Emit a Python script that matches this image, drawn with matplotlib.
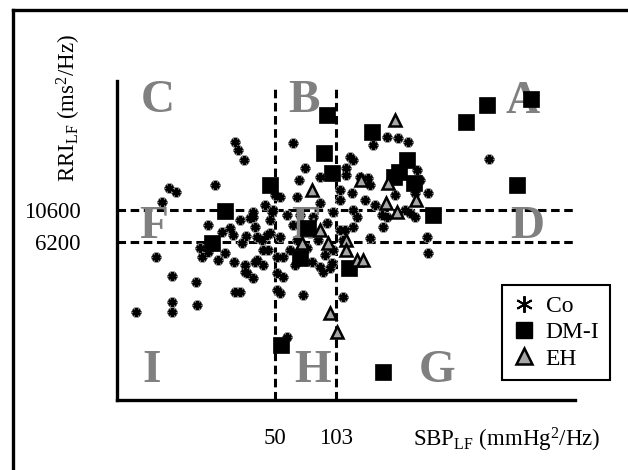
import matplotlib
matplotlib.use("Agg")
import matplotlib.pyplot as plt
from matplotlib.lines import Line2D
from matplotlib.ticker import NullLocator

# Control group (Co)
co_sbp = [9.7, 12.2, 13.1, 14.2, 15.5, 14.7, 14.7, 14.7, 19.6, 19.8,
          24.5, 31.1, 32.2, 34.6, 22.6, 20.5, 21, 22.6, 25.4, 27.6,
          30.8, 35, 35.9, 38.5, 40.4, 43.4, 42.9, 40.4, 33.8, 30.4,
          29.3, 33, 37.2, 38.5, 39.4, 47.1, 48.3, 45.5, 31.1, 51.2,
          51.2, 26.7, 35.4,
          61.9, 71.4, 66.5, 64.9, 53.1, 85.3, 108, 108, 99.5, 137,
          122, 117, 38.5, 48.8, 47.1, 53.1, 55, 51.2, 55, 85.3,
          96, 99.5, 108, 132, 126, 85.3, 78.5, 92.6, 73.1, 64.9,
          59.7, 39.4, 35, 53.1, 69.7, 88.4, 98.4, 112, 57.6, 33,
          50, 44.4, 57.6, 61.9, 67.3, 75.7, 83.3, 90.5, 77.5, 63.4,
          43.4, 46,
          160, 189, 215, 242, 126, 117, 151, 154, 125, 126,
          115, 112, 189, 180, 178, 234, 248, 263, 270, 279,
          307, 263, 303, 307, 154, 634, 164, 146, 208]
co_rri = [1890, 4780, 12100, 15400, 14400, 3470, 2230, 1890, 3130, 2120,
          16200, 33500, 29300, 24700, 8230, 5570, 4780, 5210, 4550, 5120,
          4400, 4180, 3650, 3350, 4550, 5390, 6370, 6710, 6060, 6940,
          7820, 8950, 9260, 10200, 7950, 8950, 10200, 6940, 2640, 4780,
          2740, 7310, 6830,
          33000, 21600, 17600, 13200, 13200, 18500, 14900, 12600, 10200, 18500,
          26000, 21600, 9420, 10600, 7180, 6710, 4780, 3650, 3410, 4040,
          3970, 5390, 7560, 9420, 7950, 11900, 9420, 8510, 5570, 6370,
          5390, 4400, 3710, 2600, 2510, 3710, 4320, 2430, 1230, 2640,
          13700, 11500, 9740, 8230, 9740, 7180, 6370, 4950, 4400, 4180,
          4180, 5390,
          31900, 36500, 35900, 33500, 24700, 19200, 18200, 16200, 14100, 10600,
          7560, 6370, 9420, 7950, 9740, 10600, 10100, 9420, 20900, 17600,
          14100, 14100, 6710, 5120, 6600, 25100, 11500, 12600, 13700]

# Type 1 diabetes (DM-I)
dm_sbp = [47.1, 27.6, 23.7, 67.3, 120, 53.7, 180, 92.6, 89.4, 98.4,
          158, 239, 218, 205, 260, 325, 481, 618, 1043, 884, 74]
dm_rri = [16200, 10400, 6060, 4700, 3970, 1080, 683, 53000, 27800, 19800,
          39700, 24700, 20200, 18500, 16700, 9740, 47000, 62700, 69400, 16200, 7820]

# Essential hypertension (EH)
eh_sbp = [77.5, 208, 139, 191, 187, 213, 266, 96, 104, 85.3,
          93.8, 117, 117, 132, 142, 68.9]
eh_rri = [14900, 48700, 17600, 16700, 11900, 10200, 12600, 1850, 1340, 7560,
          6060, 6370, 5390, 4550, 4550, 6060]

sbp_cuts = [50, 103]
rri_cuts = [6200, 10600]
zone_letters = ["A", "B", "C", "D", "E", "F", "G", "H", "I"]

plt.rcParams["mathtext.fontset"] = "custom"
plt.rcParams["mathtext.rm"] = "Liberation Serif"
plt.rcParams["mathtext.it"] = "Liberation Serif:italic"
serif = "Liberation Serif"

fig = plt.figure(figsize=(6.28, 4.70), dpi=100)
ax = fig.add_axes([117 / 628, 1 - 400 / 470, 458 / 628, 319 / 470])
ax.set_xscale("log")
ax.set_yscale("log")
ax.set_xlim(7.7, 1758)
ax.set_ylim(425, 94200)

# outer frame (left and top edges visible)
fig.add_artist(Line2D([13 / 628, 13 / 628], [0, 1 - 10 / 470], color="black", lw=2.4,
                      transform=fig.transFigure))
fig.add_artist(Line2D([13 / 628, 1], [1 - 10 / 470, 1 - 10 / 470], color="black", lw=2.4,
                      transform=fig.transFigure))

for s in ["top", "right"]:
    ax.spines[s].set_visible(False)
for s in ["left", "bottom"]:
    ax.spines[s].set_linewidth(2.4)

for v in sbp_cuts:
    ax.axvline(v, ymax=0.985, color="black", lw=2.2, dashes=(2.8, 1.5), zorder=1)
for v in rri_cuts:
    ax.axhline(v, color="black", lw=2.2, dashes=(2.8, 1.5), zorder=1)

# Co markers: grey halo under black asterisk
ax.plot(co_sbp, co_rri, ls="none", marker=(6, 2, 0), ms=7, mew=3.4, color="#7f7f7f", zorder=2)
ax.plot(co_sbp, co_rri, ls="none", marker=(6, 2, 0), ms=6, mew=1.8, color="black", zorder=2.1)

# zone letters
letter_pos = [(0.886, 0.900), (0.408, 0.903), (0.090, 0.903),
              (0.895, 0.508), (0.415, 0.508), (0.081, 0.508),
              (0.699, 0.056), (0.426, 0.056), (0.076, 0.056)]
for lt, (lx, ly) in zip(zone_letters, letter_pos):
    ax.text(lx, ly, lt, transform=ax.transAxes, ha="center", va="baseline",
            fontsize=34, fontweight="bold", family=serif, color="#808080", zorder=3)

ax.plot(dm_sbp, dm_rri, ls="none", marker="s", ms=11, mew=0.5, color="black", zorder=4)
ax.plot(eh_sbp, eh_rri, ls="none", marker="^", ms=8.5, mew=1.8, mfc="#a6a6a6",
        mec="black", zorder=4)

ax.xaxis.set_minor_locator(NullLocator())
ax.yaxis.set_minor_locator(NullLocator())
ax.set_xticks(sbp_cuts)
ax.set_xticklabels([str(v) for v in sbp_cuts], family=serif, fontsize=16.5)
ax.set_yticks(rri_cuts)
ax.set_yticklabels([str(v) for v in rri_cuts], family=serif, fontsize=16.5)
ax.tick_params(axis="x", length=0, pad=20)
ax.tick_params(axis="y", length=0, pad=26)

fig.text(413 / 628, 1 - 440 / 470, r"SBP$_{\mathrm{LF}}$ (mmHg$^{2}$/Hz)", ha="left", va="center",
         fontsize=16.5, family=serif)
fig.text(69 / 628, 1 - 108 / 470, r"RRI$_{\mathrm{LF}}$ (ms$^{2}$/Hz)", ha="center", va="center",
         rotation=90, fontsize=16.5, family=serif)

handles = [
    Line2D([], [], ls="none", marker=(6, 2, 0), ms=12, mew=1.4, color="black"),
    Line2D([], [], ls="none", marker="s", ms=12, color="black"),
    Line2D([], [], ls="none", marker="^", ms=12, mew=1.8, mfc="#a6a6a6", mec="black"),
]
leg = ax.legend(handles, ["Co", "DM-I", "EH"], loc="upper left",
                bbox_to_anchor=(502 / 628, 1 - 285 / 470), bbox_transform=fig.transFigure,
                borderaxespad=0, frameon=True, fancybox=False, edgecolor="black", framealpha=1,
                handlelength=1.0, handletextpad=0.4, borderpad=0.45, labelspacing=0.2,
                prop={"family": serif, "size": 17})
leg.get_frame().set_linewidth(1.5)
leg.set_zorder(5)

fig.savefig("out.png", dpi=100)
